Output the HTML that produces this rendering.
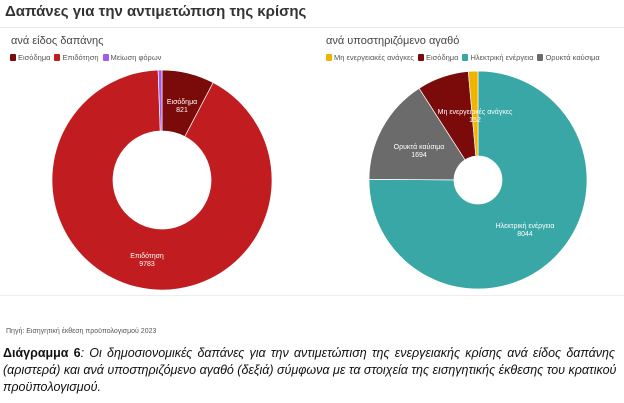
<!DOCTYPE html>
<html><head><meta charset="utf-8">
<style>
body{margin:0;width:624px;height:403px;background:#fff;font-family:"Liberation Sans","DejaVu Sans",sans-serif;overflow:hidden;position:relative}
.t{position:absolute;white-space:nowrap}
.cl{width:612px;text-align:justify;text-align-last:justify;white-space:nowrap;height:17px}
</style></head>
<body>
<div class="t" style="left:5px;top:3px;font-size:15px;font-weight:bold;color:#333">Δαπάνες για την αντιμετώπιση της κρίσης</div>
<div style="position:absolute;left:0;top:27px;width:624px;height:1px;background:#e8e8e8"></div>
<div class="t" style="left:11px;top:35px;font-size:11px;color:#444">ανά είδος δαπάνης</div>
<div class="t" style="left:326px;top:35px;font-size:11px;color:#444">ανά υποστηριζόμενο αγαθό</div>
<div id="legL" class="t" style="left:10px;top:53px;font-size:7.5px;color:#555"></div>
<div id="legR" class="t" style="left:326px;top:53px;font-size:7.5px;color:#555"></div>
<svg id="svg" width="624" height="300" style="position:absolute;left:0;top:0"></svg>
<div style="position:absolute;left:0;top:295px;width:624px;height:1px;background:#eee"></div>
<div class="t" style="left:6px;top:328px;font-size:7px;color:#555">Πηγή: Εισηγητική έκθεση προϋπολογισμού 2023</div>
<div style="position:absolute;left:3px;top:345px;font-size:12.5px;line-height:17px;font-style:italic;color:#111;font-family:'Liberation Sans',sans-serif">
<div class="cl"><b style="font-style:normal">Διάγραμμα 6</b>: Οι δημοσιονομικές δαπάνες για την αντιμετώπιση της ενεργειακής κρίσης ανά είδος δαπάνης</div>
<div class="cl">(αριστερά) και ανά υποστηριζόμενο αγαθό (δεξιά) σύμφωνα με τα στοιχεία της εισηγητικής έκθεσης του κρατικού</div>
<div style="height:17px">προϋπολογισμού.</div>
</div>
<script>
const leftCats=["Εισόδημα","Επιδότηση","Μείωση φόρων"];
const leftVals=[821,9783,60];
const leftLabels=["821","9783",""];
const rightCats=["Ηλεκτρική ενέργεια","Ορυκτά καύσιμα","Εισόδημα","Μη ενεργειακές ανάγκες"];
const rightVals=[8044,1694,821,152];
const rightLabels=["8044","1694","",""];
const legLCats=["Εισόδημα","Επιδότηση","Μείωση φόρων"];
const legRCats=["Μη ενεργειακές ανάγκες","Εισόδημα","Ηλεκτρική ενέργεια","Ορυκτά καύσιμα"];
const colors={"Εισόδημα":"#7b0a0a","Επιδότηση":"#c11d20","Μείωση φόρων":"#a25de6","Ηλεκτρική ενέργεια":"#38a7a6","Ορυκτά καύσιμα":"#6b6b6b","Μη ενεργειακές ανάγκες":"#f0b400"};
const NS="http://www.w3.org/2000/svg";
const svg=document.getElementById('svg');
function legend(id,cats){const el=document.getElementById(id);cats.forEach(c=>{const s=document.createElement('span');


s.style.marginRight='4px';s.innerHTML='<span style="display:inline-block;width:6px;height:7px;border-radius:1px;vertical-align:-1px;margin-right:2px;background:'+colors[c]+'"></span>'+c;el.appendChild(s);});}
legend('legL',legLCats);legend('legR',legRCats);
function donut(cx,cy,R,r,cats,vals,labels,labelPos,name){
const tot=vals.reduce((a,b)=>a+b,0);let a0=0;
cats.forEach((c,i)=>{const a1=a0+vals[i]/tot*2*Math.PI;
const p=(rad,a)=>[cx+rad*Math.sin(a),cy-rad*Math.cos(a)];
const [x0,y0]=p(R,a0),[x1,y1]=p(R,a1),[x2,y2]=p(r,a1),[x3,y3]=p(r,a0);const lg=(a1-a0)>Math.PI?1:0;
const path=document.createElementNS(NS,'path');
path.setAttribute('d',`M${x0},${y0}A${R},${R} 0 ${lg} 1 ${x1},${y1}L${x2},${y2}A${r},${r} 0 ${lg} 0 ${x3},${y3}Z`);
path.setAttribute('fill',colors[c]);path.setAttribute('stroke','#fff');path.setAttribute('stroke-width','0.7');


svg.appendChild(path);a0=a1;});
labelPos.forEach(lp=>{const t=document.createElementNS(NS,'text');t.setAttribute('x',lp[0]);t.setAttribute('y',lp[1]);t.setAttribute('text-anchor','middle');t.setAttribute('font-size','7');t.setAttribute('fill','#fff');


const i=cats.indexOf(lp[2]);let v=labels[i]||String(vals[i]);
t.innerHTML=`<tspan x="${lp[0]}">${lp[2]}</tspan><tspan x="${lp[0]}" dy="8">${v}</tspan>`;svg.appendChild(t);});}
donut(162,180,110,49,leftCats,leftVals,leftLabels,[[182,104,"Εισόδημα"],[147,258,"Επιδότηση"]],'left');
donut(478,180,109,24,rightCats,rightVals,rightLabels,[[475,114,"Μη ενεργειακές ανάγκες"],[419,149,"Ορυκτά καύσιμα"],[525,228,"Ηλεκτρική ενέργεια"]],'right');
</script>
</body></html>
